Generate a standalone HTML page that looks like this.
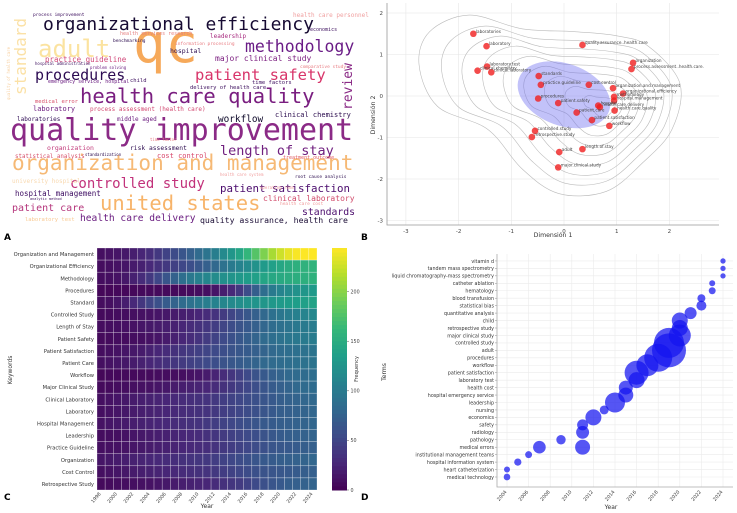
<!DOCTYPE html>
<html><head><meta charset="utf-8"><style>
body{margin:0;background:#fff;}
svg{display:block;font-family:"DejaVu Sans","Liberation Sans",sans-serif;}
.wc{font-family:"DejaVu Sans Mono","Liberation Mono",monospace;}
</style></head><body>
<svg id="fig" width="737" height="513" viewBox="0 0 737 513" xmlns="http://www.w3.org/2000/svg">
<g id="wordcloud" class="wc"></g>
<g id="scatter"></g>
<g id="heat"></g>
<g id="bubble"></g>
<text x="4" y="240" font-size="9" font-weight="bold">A</text>
<text x="361" y="240" font-size="9" font-weight="bold">B</text>
<text x="4" y="500" font-size="9" font-weight="bold">C</text>
<text x="361" y="500" font-size="9" font-weight="bold">D</text>
</svg>
<script>
const NS="http://www.w3.org/2000/svg";
function mk(tag,attrs,parent,txt){const e=document.createElementNS(NS,tag);for(const k in attrs)e.setAttribute(k,attrs[k]);if(txt!==undefined)e.textContent=txt;parent.appendChild(e);return e;}

/* ---------- Word cloud (A) ---------- */
const wcWords=["organizational efficiency","qc","methodology","adult","standard","procedures","patient safety","health care quality","review","quality improvement","organization and management","length of stay","controlled study","united states","patient satisfaction","patient care","health care delivery","quality assurance, health care","standards","clinical laboratory","hospital management","workflow","clinical chemistry","leadership","major clinical study","practice guideline","hospital","risk assessment","cost control","organization","statistical analysis","laboratory","laboratories","process assessment (health care)","middle aged","medical error","child","time factors","delivery of health care","economics","health care personnel","emergency service, hospital","university hospital","root cause analysis","treatment outcome","laboratory test","process improvement","health services research","benchmarking","comparative study","health care cost","hospital administration","problem solving","information processing","quality of health care","standardization","time factor","health care system","analytic method","operating room"];
const wcX=[43,133,245,38,26,35,195,80,352,10,12,220,70,100,220,12,80,200,302,263,15,218,275,210,215,45,170,130,157,47,15,33,17,90,117,35,130,252,190,310,293,48,12,295,283,25,33,120,113,300,280,35,90,175,10,85,150,220,30,260];
const wcY=[30,62,52,57,95,80,80,103,110,140,170,155,188,210,192,211,221,223,215,201,196,122,117,38,61,62,53,150,158,150,158,111,121,111,121,103,82,84,89,31,17,83,183,178,159,221,16,35,42,68,205,65,69,45,100,156,141,176,200,189];
const wcSize=[18,54,16.5,24,16,15,15.5,20.5,13,30,21,13.5,14,20.5,10.8,10,9.6,8.2,9.8,8,7.5,9.4,7,6,8,7.5,6.5,6.3,7,6.5,5.8,7,6,6,6,5.5,5.5,5.5,5.5,5,6,5,6,4.5,5,5.5,4.5,5,4.5,4.5,4.5,4,4,4.5,4,4,4,4,3.5,4];
const wcColor=["#170b33","#f6a95a","#6a1c86","#fbe3a0","#fbe1a6","#2c0b52","#d8356a","#7a1e80","#8a2a86","#8b2a86","#f6b975","#70207f","#c2327b","#f7b46a","#4b0c6d","#b5367c","#6a1d80","#1b0d35","#4d0f6e","#d14b6b","#3d0c62","#0d0829","#2a0b4d","#a82b7f","#7c1f80","#d1487a","#2c0b4f","#2c0b4f","#d8466a","#c13a7a","#d7506a","#6e1f82","#2f0c55","#d34a72","#6d1f81","#d7506a","#3a0c5c","#3a0c5c","#3a0c5c","#3a0c5c","#f0a0a0","#6a1d80","#f8d9b0","#2a0b4d","#e15a60","#f8c890","#3a0c5c","#e58080","#2a0b4d","#e87a80","#f09a9a","#3a0c5c","#6a1d80","#e87a80","#f8d0a0","#2a0b4d","#e87a80","#f0a0a0","#3a0c5c","#f0a0a0"];
const wcVert=[0,0,0,0,1,0,0,0,1,0,0,0,0,0,0,0,0,0,0,0,0,0,0,0,0,0,0,0,0,0,0,0,0,0,0,0,0,0,0,0,0,0,0,0,0,0,0,0,0,0,0,0,0,0,1,0,0,0,0,0];
(function(){const g=document.getElementById('wordcloud');
for(let i=0;i<wcWords.length;i++){
 const t=mk('text',{x:wcX[i],y:wcY[i],'font-size':wcSize[i],fill:wcColor[i]},g,wcWords[i]);
 if(wcVert[i])t.setAttribute('transform',`rotate(-90 ${wcX[i]} ${wcY[i]})`);
 
 
}})();

/* ---------- Scatter (B) ---------- */
const mcaTerms=["laboratories","laboratory","quality.assurance..health.care","organization","process.assessment..health.care.","laboratory.test","clinical.laboratory","clinical.chemistry","standards","practice.guideline","cost.control","organization.and.management","organizational.efficiency","methodology","hospital.management","procedures","patient.safety","hospital","health.care.delivery","health.care.quality","patient.care","patient.satisfaction","workflow","controlled.study","retrospective.study","adult","length.of.stay","major.clinical.study"];
const mcaDim1=[-1.72,-1.47,0.35,1.31,1.28,-1.46,-1.38,-1.64,-0.48,-0.44,0.47,0.93,1.12,0.95,0.95,-0.49,-0.11,0.65,0.68,0.96,0.24,0.53,0.86,-0.55,-0.61,-0.09,0.35,-0.11];
const mcaDim2=[1.50,1.20,1.23,0.80,0.65,0.71,0.57,0.61,0.48,0.27,0.27,0.19,0.06,-0.02,-0.11,-0.06,-0.17,-0.23,-0.27,-0.35,-0.40,-0.58,-0.72,-0.84,-0.99,-1.35,-1.28,-1.72];
const sxTicks=[-3,-2,-1,0,1,2];
const syTicks=[-3,-2,-1,0,1,2];
(function(){const g=document.getElementById('scatter');
 const X=v=>564+v*52.7, Y=v=>96-v*41.5;
 const L=387,R=719,T=3,B=225;
 sxTicks.forEach(v=>{const l=mk('line',{x1:X(v),x2:X(v),y1:T,y2:B,stroke:'#e6e6e6','stroke-width':0.6},g);
  const t=mk('text',{x:X(v),y:B+8,'font-size':5.5,'text-anchor':'middle',fill:'#444'},g,String(v));});
 syTicks.forEach(v=>{const l=mk('line',{x1:L,x2:R,y1:Y(v),y2:Y(v),stroke:'#e6e6e6','stroke-width':0.6},g);
  const t=mk('text',{x:L-4,y:Y(v)+2,'font-size':5.5,'text-anchor':'end',fill:'#444'},g,String(v));});
 const ax=mk('path',{d:`M${L},${T}V${B}H${R}`,stroke:'#999',fill:'none','stroke-width':0.8},g);
 // contours
 const base=[[-2.55,1.55],[-1.8,1.95],[-0.8,1.62],[0.2,1.55],[1.0,1.45],[1.6,1.2],[2.2,0.3],[2.05,-0.8],[1.5,-1.6],[0.8,-2.3],[-0.1,-2.35],[-0.8,-1.75],[-1.45,-0.8],[-2.4,-0.25],[-2.75,0.75]];
 const scales=[1,0.88,0.77,0.66,0.55,0.44,0.33,0.22,0.12];
 scales.forEach((s,k)=>{const cx=0.2+0.6*(1-s), cy=-0.1-0.15*(1-s);
  const pts=base.map(p=>[X(cx+(p[0]-0.2)*s),Y(cy+(p[1]+0.1)*s)]);
  let d='';const n=pts.length;
  for(let i=0;i<n;i++){const p0=pts[(i-1+n)%n],p1=pts[i],p2=pts[(i+1)%n],p3=pts[(i+2)%n];
   if(i===0)d+=`M${p1[0]},${p1[1]}`;
   d+=`C${p1[0]+(p2[0]-p0[0])/6},${p1[1]+(p2[1]-p0[1])/6} ${p2[0]-(p3[0]-p1[0])/6},${p2[1]-(p3[1]-p1[1])/6} ${p2[0]},${p2[1]}`;}
  const c=mk('path',{d:d+'Z',fill:'none',stroke:'#bbb','stroke-width':0.6},g);});
 const el=mk('ellipse',{cx:X(0),cy:Y(0.03),rx:48,ry:31,fill:'rgba(110,110,240,0.42)',transform:`rotate(20 ${X(0)} ${Y(0.03)})`},g);
 for(let i=0;i<mcaTerms.length;i++){
  const c=mk('circle',{cx:X(mcaDim1[i]),cy:Y(mcaDim2[i]),r:3.3,fill:'rgba(240,30,30,0.8)'},g);
  const t=mk('text',{x:X(mcaDim1[i])+2.5,y:Y(mcaDim2[i])-1,'font-size':4.2,fill:'#444'},g,mcaTerms[i]);}
 const xl=mk('text',{x:553,y:237,'font-size':6.2,'text-anchor':'middle',fill:'#333'},g,'Dimensión 1');
 const yl=mk('text',{x:375,y:115,'font-size':6.2,'text-anchor':'middle',fill:'#333',transform:'rotate(-90 375 115)'},g,'Dimensión 2');
})();

/* ---------- Heatmap (C) ---------- */
const hmKeywords=["Organization and Management","Organizational Efficiency","Methodology","Procedures","Standard","Controlled Study","Length of Stay","Patient Safety","Patient Satisfaction","Patient Care","Workflow","Major Clinical Study","Clinical Laboratory","Laboratory","Hospital Management","Leadership","Practice Guideline","Organization","Cost Control","Retrospective Study"];
const hmYears=[1998,1999,2000,2001,2002,2003,2004,2005,2006,2007,2008,2009,2010,2011,2012,2013,2014,2015,2016,2017,2018,2019,2020,2021,2022,2023,2024];
const hmYearTicks=["1998","2000","2002","2004","2006","2008","2010","2012","2014","2016","2018","2020","2022","2024"];
const hmCbTicks=[0,50,100,150,200];
const hmR1=[10,12,14,16,20,26,32,40,48,56,64,74,84,94,104,116,128,142,160,178,196,212,226,236,242,244,244];
const hmR2=[8,10,12,14,18,22,28,34,40,46,52,58,66,74,82,92,100,108,116,124,132,138,144,150,154,156,158];
const hmR3=[8,10,12,16,22,30,40,52,64,76,88,98,106,112,118,122,126,130,134,138,142,145,148,150,152,154,156];
const hmR4=[4,4,5,5,5,6,6,6,6,6,6,7,8,10,14,20,28,40,56,72,88,100,110,118,124,128,132];
const hmR5=[8,10,14,20,28,38,50,60,70,78,86,92,98,104,108,112,116,120,124,126,128,130,132,134,136,138,140];
const hmR6=[6,7,8,9,10,11,12,14,16,18,20,22,26,30,36,42,50,58,66,74,82,90,96,102,106,110,114];
const hmR7=[8,9,10,11,12,14,16,18,20,22,26,30,34,38,44,50,56,62,68,74,80,86,90,94,98,100,102];
const hmR8=[6,7,8,8,9,10,12,14,18,22,26,30,36,42,48,54,60,66,72,78,84,88,92,96,98,100,102];
const hmR9=[8,10,12,14,16,18,22,26,30,34,38,42,46,50,54,58,62,66,70,74,78,82,86,88,90,92,94];
const hmR10=[10,12,14,16,18,22,26,30,34,38,42,46,50,54,58,62,66,70,74,78,82,84,86,88,90,92,94];
const hmR11=[4,5,5,6,6,7,7,8,8,9,10,12,14,18,24,30,38,46,54,62,68,74,78,82,84,86,88];
const hmR12=[6,7,8,9,10,11,12,14,16,18,20,22,24,26,30,34,40,46,52,58,64,70,74,78,82,84,86];
const hmR13=[10,12,14,16,18,20,22,24,26,28,30,32,34,36,40,44,48,52,56,60,64,68,72,76,78,80,82];
const hmR14=[10,12,14,16,18,20,22,24,26,28,30,32,34,36,40,44,48,52,56,60,64,68,72,74,76,78,80];
const hmR15=[12,14,16,18,20,22,24,26,28,30,32,34,36,40,44,48,52,56,60,64,68,70,72,74,76,78,80];
const hmR16=[8,9,10,12,14,16,18,20,22,24,26,28,30,34,38,42,46,50,54,58,62,66,70,72,74,76,78];
const hmR17=[10,11,12,13,14,16,18,20,22,24,26,28,30,32,36,40,44,48,52,56,60,64,66,68,70,72,74];
const hmR18=[14,16,18,20,22,24,26,28,30,32,34,36,38,40,44,48,52,56,60,64,68,70,72,74,76,78,80];
const hmR19=[10,12,14,16,18,20,22,24,26,28,30,32,34,36,40,44,48,52,56,60,62,64,66,68,70,72,74];
const hmR20=[6,7,8,9,10,11,12,14,16,18,20,22,24,26,30,34,38,42,48,54,60,64,68,72,74,76,78];
const hmRows=[hmR1,hmR2,hmR3,hmR4,hmR5,hmR6,hmR7,hmR8,hmR9,hmR10,hmR11,hmR12,hmR13,hmR14,hmR15,hmR16,hmR17,hmR18,hmR19,hmR20];
function viridis(t){const s=[[68,1,84],[72,40,120],[62,74,137],[49,104,142],[38,130,142],[31,158,137],[53,183,121],[109,205,89],[180,222,44],[253,231,37]];
 t=Math.max(0,Math.min(1,t))*(s.length-1);const i=Math.min(Math.floor(t),s.length-2),f=t-i;
 return `rgb(${s[i].map((c,k)=>Math.round(c+(s[i+1][k]-c)*f)).join(',')})`;}
(function(){const g=document.getElementById('heat');
 const L=97,R=317,T=248,B=490,vmax=244;
 const cw=(R-L)/hmYears.length, ch=(B-T)/hmKeywords.length;
 const X=i=>L+i*cw, Y=j=>T+j*ch;
 hmRows.forEach((row,j)=>{row.forEach((v,i)=>{const r=mk('rect',{x:X(i),y:Y(j),width:cw,height:ch,fill:viridis(v/vmax),stroke:'rgba(255,255,255,0.55)','stroke-width':0.5},g);
  });
  const t=mk('text',{x:L-3,y:Y(j)+ch/2+2,'font-size':5.2,'text-anchor':'end',fill:'#333'},g,hmKeywords[j]);});
 hmYearTicks.forEach(lab=>{const i=hmYears.indexOf(+lab);const x=X(i)+cw/2,y=B+4;
  const t=mk('text',{x:x,y:y,'font-size':4.8,'text-anchor':'end',fill:'#444',transform:`rotate(-50 ${x} ${y})`},g,lab);});
 const xl=mk('text',{x:207,y:508,'font-size':6,'text-anchor':'middle',fill:'#333'},g,'Year');
 const yl=mk('text',{x:12,y:370,'font-size':6,'text-anchor':'middle',fill:'#333',transform:'rotate(-90 12 370)'},g,'Keywords');
 // colorbar
 const cbL=332,cbW=15,n=60;
 for(let k=0;k<n;k++){const v0=vmax*k/n;const r=mk('rect',{x:cbL,y:B-(k+1)*(B-T)/n,width:cbW,height:(B-T)/n+0.5,fill:viridis((v0+vmax/n/2)/vmax)},g);}
 hmCbTicks.forEach(v=>{const y=B-v/vmax*(B-T);mk('line',{x1:cbL+cbW,x2:cbL+cbW+2,y1:y,y2:y,stroke:'#555','stroke-width':0.5},g);
  const t=mk('text',{x:cbL+cbW+3.5,y:y+1.8,'font-size':4.8,fill:'#444'},g,String(v));});
 const cl=mk('text',{x:358,y:369,'font-size':5,'text-anchor':'middle',fill:'#333',transform:'rotate(-90 358 369)'},g,'Frequency');
})();

/* ---------- Bubble (D) ---------- */
const btTerms=["medical technology","heart catheterization","hospital information system","institutional management teams","medical errors","pathology","radiology","safety","economics","nursing","leadership","hospital emergency service","health cost","laboratory test","patient satisfaction","workflow","procedures","adult","controlled study","major clinical study","retrospective study","child","quantitative analysis","statistical bias","blood transfusion","hematology","catheter ablation","liquid chromatography-mass spectrometry","tandem mass spectrometry","vitamin d"];
const btBubTerm=["medical technology","heart catheterization","hospital information system","institutional management teams","medical errors","pathology","medical errors","radiology","safety","economics","nursing","leadership","hospital emergency service","health cost","laboratory test","patient satisfaction","workflow","procedures","adult","controlled study","major clinical study","retrospective study","child","quantitative analysis","statistical bias","blood transfusion","hematology","catheter ablation","liquid chromatography-mass spectrometry","tandem mass spectrometry","vitamin d"];
const btBubYear=[2004,2004,2005,2006,2007,2009,2011,2011,2011,2012,2013,2014,2015,2015,2016,2016,2017,2018,2019,2019,2020,2020,2020,2021,2022,2022,2023,2023,2024,2024,2024];
const btBubFreq=[11,9,13,12,40,22,56,42,30,64,20,100,56,49,64,144,121,196,289,225,121,64,64,36,25,16,12,9,7,7,7];
const btYearTicks=[2004,2006,2008,2010,2012,2014,2016,2018,2020,2022,2024];
(function(){const g=document.getElementById('bubble');
 const L=497,R=733,T=254,B=487;
 const X=y=>507+(y-2004)*10.8;
 const Y=term=>477-btTerms.indexOf(term)*7.45;
 btYearTicks.forEach(v=>{const l=mk('line',{x1:X(v),x2:X(v),y1:T,y2:B,stroke:'#ebebeb','stroke-width':0.6},g);
  const x=X(v),y=B+5;const t=mk('text',{x:x,y:y,'font-size':4.8,'text-anchor':'end',fill:'#444',transform:`rotate(-50 ${x} ${y})`},g,String(v));});
 btTerms.forEach(term=>{const y=Y(term);const l=mk('line',{x1:L,x2:R,y1:y,y2:y,stroke:'#ebebeb','stroke-width':0.6},g);
  mk('line',{x1:L-2,x2:L,y1:y,y2:y,stroke:'#888','stroke-width':0.5},g);
  const t=mk('text',{x:L-3,y:y+1.8,'font-size':4.8,'text-anchor':'end',fill:'#333'},g,term);});
 const ax=mk('path',{d:`M${L},${T}V${B}H${R}`,stroke:'#aaa',fill:'none','stroke-width':0.8},g);
 for(let i=0;i<btBubTerm.length;i++){const c=mk('circle',{cx:X(btBubYear[i]),cy:Y(btBubTerm[i]),r:Math.sqrt(btBubFreq[i]),fill:'rgba(20,20,240,0.72)'},g);
  }
 const xl=mk('text',{x:611,y:509,'font-size':6,'text-anchor':'middle',fill:'#333'},g,'Year');
 const yl=mk('text',{x:386,y:372,'font-size':6,'text-anchor':'middle',fill:'#333',transform:'rotate(-90 386 372)'},g,'Terms');
})();
</script>
</body></html>
